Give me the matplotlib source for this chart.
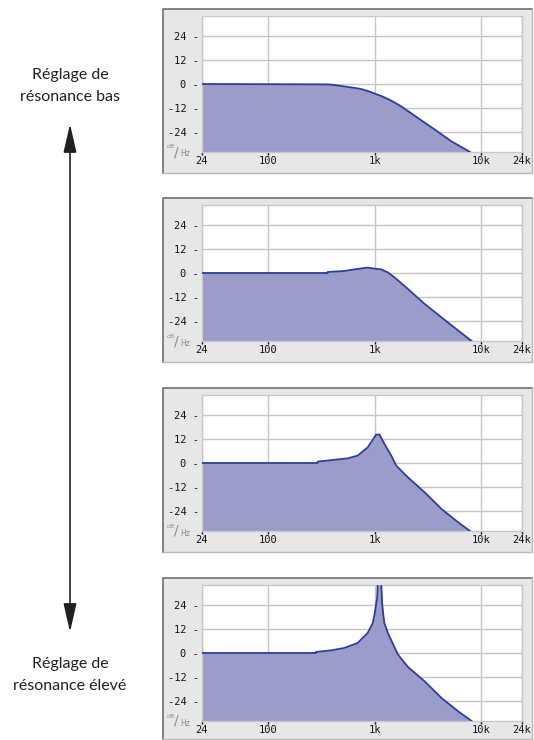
import matplotlib
matplotlib.use("Agg")
import matplotlib.pyplot as plt
from matplotlib.patches import Rectangle, FancyArrowPatch
from matplotlib.lines import Line2D

# ---- data ----
x_ticks = [24, 100, 1000, 10000, 24000]
x_tick_labels = ["24", "100", "1k", "10k", "24k"]
y_ticks = [-24, -12, 0, 12, 24]
y_tick_labels = ["-24 -", "-12 -", "0 -", "12 -", "24 -"]

freq_low = [24, 360, 430, 517, 620, 742, 860, 1000, 1150, 1327, 1530, 1770, 2540, 3649, 5250, 7815]
db_low = [0, -0.2, -0.6, -1.2, -1.8, -2.5, -3.5, -4.8, -6.0, -7.5, -9.2, -11.2, -17.0, -22.8, -28.7, -34]

freq_mid = [24, 360, 362, 517, 643, 858, 991, 1146, 1327, 1531, 2048, 2938, 4222, 6066, 8092]
db_mid = [0, 0, 0.5, 1.0, 1.8, 2.7, 2.2, 1.8, 0.3, -2.2, -8.0, -15.5, -22.2, -28.8, -34]

freq_high = [24, 290, 292, 401, 556, 691, 858, 991, 1030, 1107, 1233, 1426, 1588, 2048, 2938, 4222, 6066, 7815]
db_high = [0, 0, 0.7, 1.5, 2.3, 3.7, 7.8, 12.8, 14.2, 14.2, 9.5, 3.7, -1.3, -7.2, -14.7, -23.0, -29.7, -34]

freq_max = [24, 279, 281, 387, 517, 691, 858, 958, 1000, 1054, 1067, 1146, 1172, 1196, 1230, 1327, 1467, 1651, 2048, 2938, 4222, 6066, 8092]
db_max = [0, 0, 0.5, 1.3, 2.5, 5.0, 10.0, 15.0, 20.0, 28.0, 36.0, 36.0, 25.0, 20.0, 15.0, 10.0, 5.0, -0.8, -7.0, -14.2, -22.5, -29.2, -34]

series = [(freq_low, db_low), (freq_mid, db_mid), (freq_high, db_high), (freq_max, db_max)]

label_top = "Réglage de\nrésonance bas"
label_bottom = "Réglage de\nrésonance élevé"

# ---- layout ----
W, H = 534, 740
fig = plt.figure(figsize=(W / 100, H / 100), dpi=100)

plot_tops = [16, 205, 395, 585]
plot_h = 136
frame_tops = [9, 198, 388, 578]
frame_h = 164
px_left, px_right = 202, 522
fr_left, fr_right = 163, 532

fill_c = "#9c9ccb"
line_c = "#2b3f98"
grid_c = "#c6c6c6"
frame_c = "#e6e7e9"

def fx(px):
    return px / W

def fy(py):
    return 1 - py / H

for i, (f, d) in enumerate(series):
    # frame
    ft = frame_tops[i]
    fb = min(ft + frame_h, H - 1)
    fig.patches.append(Rectangle((fx(fr_left), fy(fb)), fx(fr_right - fr_left), (fb - ft) / H,
                                 transform=fig.transFigure, facecolor=frame_c,
                                 edgecolor="none", zorder=-2))
    fig.lines.append(Line2D([fx(fr_left), fx(fr_left), fx(fr_right)], [fy(fb), fy(ft), fy(ft)],
                            transform=fig.transFigure, color="#6f6f6f", lw=1.2, zorder=-1))
    fig.lines.append(Line2D([fx(fr_left), fx(fr_right), fx(fr_right)], [fy(fb), fy(fb), fy(ft)],
                            transform=fig.transFigure, color="#b8b8b8", lw=1.0, zorder=-1))

    pt = plot_tops[i]
    ax = fig.add_axes([fx(px_left), fy(pt + plot_h), fx(px_right - px_left), plot_h / H])
    ax.set_zorder(1)
    ax.set_facecolor("white")
    ax.set_xscale("log")
    ax.set_xlim(24, 24000)
    ax.set_ylim(-34, 34)
    ax.fill_between(f, d, -40, color=fill_c, lw=0, zorder=2)
    ax.plot(f, d, color=line_c, lw=1.3, zorder=3, solid_joinstyle="miter")
    ax.set_xticks(x_ticks)
    ax.set_xticklabels(x_tick_labels)
    ax.minorticks_off()
    ax.set_yticks(y_ticks)
    ax.set_yticklabels(y_tick_labels)
    ax.grid(True, color=grid_c, lw=1.0, zorder=1)
    ax.set_axisbelow(True)
    for s in ax.spines.values():
        s.set_color("#c8c8c8")
        s.set_linewidth(1.0)
    ax.tick_params(axis="y", length=0, pad=2, labelsize=7.5, labelcolor="#111111")
    ax.tick_params(axis="x", length=2, width=1, pad=1, labelsize=7.5, labelcolor="#111111",
                   color="#111111")
    for lab in ax.get_xticklabels() + ax.get_yticklabels():
        lab.set_family("DejaVu Sans Mono")

    # dB/Hz marker
    by = pt + plot_h
    fig.text(fx(167), fy(by - 5), "dB", fontsize=4.5, color="#8a8a8a", ha="left", va="center")
    fig.text(fx(174), fy(by + 0), "/", fontsize=10, color="#8a8a8a", ha="left", va="center")
    fig.text(fx(180), fy(by + 2), "Hz", fontsize=5.5, color="#8a8a8a", ha="left", va="center")

# side labels and arrow
fig.text(fx(70), fy(86), label_top, ha="center", va="center", fontsize=11.5,
         family="Lato", color="#231f20", linespacing=1.75)
fig.text(fx(70), fy(675), label_bottom, ha="center", va="center", fontsize=11.5,
         family="Lato", color="#231f20", linespacing=1.75)
fig.patches.append(FancyArrowPatch(
    (fx(70), fy(124)), (fx(70), fy(632)), transform=fig.transFigure,
    arrowstyle="<|-|>,head_length=7,head_width=1.6", color="#231f20", lw=1.2,
    mutation_scale=2.5, shrinkA=0, shrinkB=0))

fig.savefig("out.png", dpi=100)
